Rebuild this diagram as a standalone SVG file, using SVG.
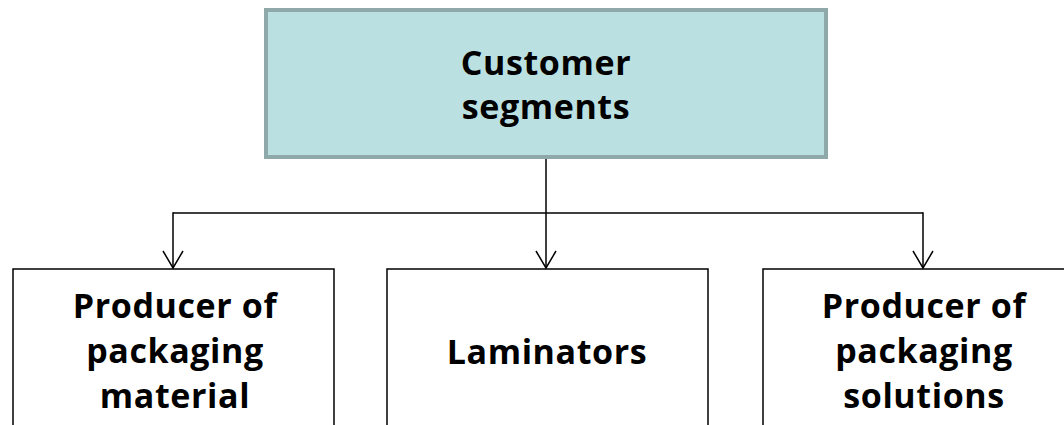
<svg xmlns="http://www.w3.org/2000/svg" width="1064" height="425" viewBox="0 0 1064 425">
<style>
.lbl{font-family:"Open Sans",Lato,sans-serif;font-weight:bold;fill:#000;text-anchor:middle;font-size:34px;letter-spacing:0.6px}
.box{fill:#fff;stroke:#000;stroke-width:1.5}
.conn{fill:none;stroke:#000;stroke-width:1.5}
</style>
<defs>
<marker id="arr" markerUnits="userSpaceOnUse" viewBox="0 0 20 22" refX="19" refY="11" markerWidth="20" markerHeight="22" orient="auto">
<path d="M2,1 L19,11 L2,21" fill="none" stroke="#000" stroke-width="1.5"/>
</marker>
</defs>
<rect width="1064" height="425" fill="#fff"/>
<g id="customer-segments">
<rect x="266" y="10" width="560" height="147" fill="#bbe0e2" stroke="#8fa9aa" stroke-width="4"/>
<text class="lbl" x="546" y="75">Customer</text>
<text class="lbl" x="546" y="119">segments</text>
</g>
<g id="producer-material">
<rect class="box" x="13" y="269" width="321" height="170"/>
<text class="lbl" x="175" y="318">Producer of</text>
<text class="lbl" x="175" y="363">packaging</text>
<text class="lbl" x="175" y="408">material</text>
</g>
<g id="laminators">
<rect class="box" x="387" y="269" width="321" height="170"/>
<text class="lbl" x="547" y="364">Laminators</text>
</g>
<g id="producer-solutions">
<rect class="box" x="763" y="269" width="330" height="170"/>
<text class="lbl" x="924" y="318">Producer of</text>
<text class="lbl" x="924" y="363">packaging</text>
<text class="lbl" x="924" y="408">solutions</text>
</g>
<g id="connectors">
<line class="conn" x1="546" y1="159" x2="546" y2="268" marker-end="url(#arr)"/>
<line class="conn" x1="173" y1="213" x2="923" y2="213"/>
<line class="conn" x1="173" y1="212.25" x2="173" y2="268" marker-end="url(#arr)"/>
<line class="conn" x1="923" y1="212.25" x2="923" y2="268" marker-end="url(#arr)"/>
</g>
</svg>
